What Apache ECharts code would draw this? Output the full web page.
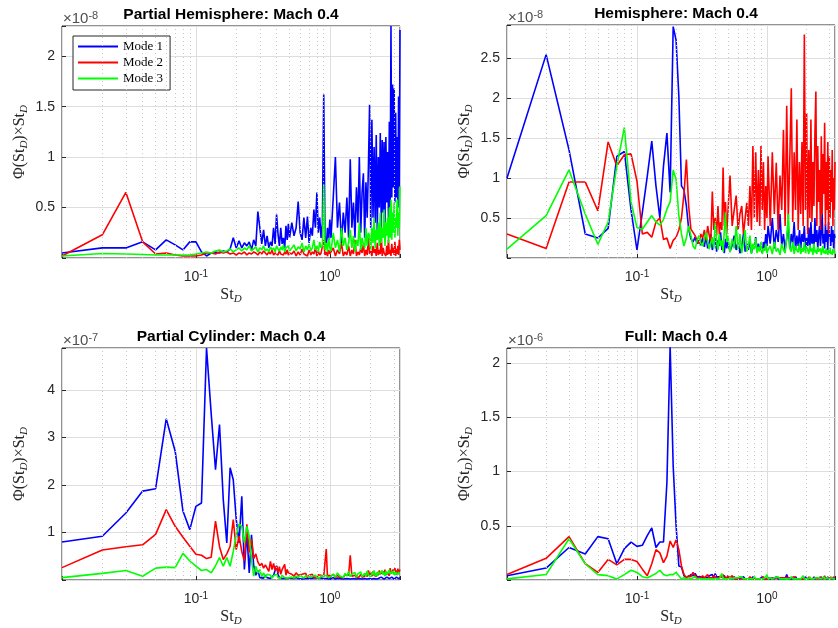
<!DOCTYPE html>
<html>
<head>
<meta charset="utf-8">
<title>Modal spectra, Mach 0.4</title>
<script src="https://cdn.jsdelivr.net/npm/echarts@6.0.0/dist/echarts.min.js"></script>
<style>
    html, body { margin: 0; padding: 0; background: #fff; }
    #myChart { width: 838px; height: 628px; }
</style>
</head>
<body>
<div id="myChart"></div>
<script>
// St_D samples (finer at low St, coarser where the spectra are dense)
var stLow = [0.01,0.02,0.03,0.04,0.05,0.06,0.07,0.08,0.09,0.10,
    0.11,0.12,0.13,0.14,0.15,0.16,0.17,0.18,0.19,0.20,
    0.21,0.22,0.23,0.24,0.25,0.26,0.27,0.28,0.29,0.30,
    0.31,0.32,0.33,0.34,0.35,0.36,0.37,0.38,0.39,0.40,
    0.41,0.42,0.43,0.44,0.45,0.46,0.47,0.48,0.49,0.50];
var stMid = [0.52,0.54,0.56,0.58,0.60,0.62,0.64,0.66,0.68,0.70,0.72,0.74,0.76,
    0.78,0.80,0.82,0.84,0.86,0.88,0.90,0.92,0.94,0.96,0.98,1.00];
var stHigh = [1.02,1.06,1.10,1.14,1.18,1.22,1.26,1.30,1.34,1.38,
    1.42,1.46,1.50,1.54,1.58,1.62,1.66,1.70,1.74,1.78,
    1.82,1.86,1.90,1.94,1.98,2.02,2.06,2.10,2.14,2.18,
    2.22,2.26,2.30,2.34,2.38,2.42,2.46,2.50,2.54,2.58,
    2.62,2.66,2.70,2.74,2.78,2.82,2.86,2.90,2.94,2.98,
    3.02,3.06,3.10,3.14,3.18,3.22,3.26,3.30,3.34];
var stValues = stLow.concat(stMid, stHigh);

// Partial Hemisphere, values x 1e-8
var partialHemiMode1 = [
    0.05,0.10,0.10,0.16,0.08,0.18,0.13,0.08,0.16,0.16,
    0.06,0.02,0.05,0.06,0.05,0.07,0.06,0.09,0.20,0.10,
    0.17,0.10,0.15,0.12,0.16,0.08,0.18,0.12,0.46,0.30,
    0.14,0.28,0.12,0.22,0.10,0.16,0.12,0.30,0.14,0.43,
    0.24,0.12,0.30,0.14,0.20,0.10,0.32,0.18,0.34,0.20,
    0.35,0.22,0.30,0.56,0.25,0.18,0.40,0.20,0.41,0.15,0.30,0.22,0.48,0.30,0.65,0.25,0.40,0.20,0.35,1.62,0.22,0.10,0.30,0.18,0.38,
    0.20,0.60,1.00,0.30,0.55,0.15,0.45,0.25,0.60,0.20,
    0.98,0.30,0.55,0.20,0.70,0.35,1.00,0.25,0.65,0.84,
    0.20,0.75,0.40,0.90,1.52,0.30,1.37,0.40,1.10,0.35,
    1.22,0.25,1.00,0.50,1.24,0.30,1.17,0.45,1.15,0.35,
    1.20,0.55,1.05,0.40,1.35,0.50,2.30,0.60,1.72,0.70,
    1.68,0.55,1.44,0.60,1.20,0.50,1.60,0.70,2.26];
var partialHemiMode2 = [
    0.02,0.23,0.65,0.16,0.04,0.05,0.03,0.02,0.02,0.02,
    0.03,0.05,0.05,0.04,0.06,0.05,0.06,0.04,0.05,0.03,
    0.05,0.04,0.06,0.03,0.05,0.04,0.06,0.05,0.03,0.06,
    0.04,0.07,0.05,0.03,0.06,0.04,0.08,0.03,0.05,0.06,
    0.03,0.07,0.04,0.05,0.03,0.06,0.04,0.08,0.03,0.05,
    0.04,0.07,0.02,0.06,0.03,0.09,0.04,0.05,0.02,0.08,0.03,0.06,0.04,0.10,0.02,0.07,0.03,0.05,0.04,0.18,0.03,0.06,0.02,0.08,0.04,
    0.03,0.10,0.02,0.08,0.04,0.15,0.02,0.06,0.03,0.12,
    0.02,0.08,0.04,0.18,0.02,0.06,0.03,0.10,0.05,0.14,
    0.02,0.08,0.03,0.20,0.04,0.07,0.02,0.12,0.05,0.09,
    0.02,0.15,0.03,0.08,0.04,0.22,0.02,0.10,0.05,0.06,
    0.02,0.12,0.03,0.18,0.04,0.08,0.02,0.14,0.05,0.10,
    0.03,0.16,0.02,0.09,0.04,0.12,0.03,0.18,0.08];
var partialHemiMode3 = [
    0.02,0.045,0.04,0.035,0.03,0.03,0.03,0.03,0.03,0.04,
    0.05,0.06,0.05,0.07,0.08,0.06,0.07,0.09,0.06,0.08,
    0.10,0.07,0.10,0.08,0.12,0.07,0.09,0.11,0.06,0.10,
    0.08,0.12,0.07,0.09,0.06,0.11,0.08,0.10,0.06,0.12,
    0.09,0.07,0.11,0.08,0.13,0.06,0.10,0.09,0.12,0.07,
    0.10,0.13,0.07,0.11,0.09,0.15,0.06,0.12,0.08,0.14,0.07,0.10,0.18,0.08,0.12,0.06,0.16,0.10,0.12,0.73,0.08,0.15,0.06,0.20,0.10,
    0.07,0.25,0.10,0.18,0.06,0.30,0.12,0.20,0.08,0.15,
    0.28,0.10,0.22,0.06,0.18,0.12,0.35,0.08,0.20,0.14,
    0.10,0.30,0.12,0.25,0.22,0.08,0.30,0.15,0.40,0.10,
    0.28,0.18,0.35,0.12,0.45,0.15,0.30,0.20,0.48,0.12,
    0.35,0.22,0.40,0.15,0.50,0.20,0.58,0.18,0.45,0.25,
    0.55,0.20,0.40,0.30,0.58,0.22,0.45,0.30,0.71];

// Hemisphere, values x 1e-8
var hemiMode1 = [
    1.00,2.54,1.35,0.30,0.25,0.37,1.27,1.33,0.60,0.10,
    0.57,1.02,1.46,0.90,0.50,1.15,1.56,0.82,2.89,2.72,
    2.02,0.90,0.85,0.65,0.36,0.24,0.20,0.26,0.18,0.22,
    0.16,0.25,0.14,0.28,0.12,0.20,0.30,0.10,0.18,0.26,
    0.08,0.22,0.15,0.32,0.10,0.18,0.06,0.24,0.12,0.20,
    0.08,0.16,0.28,0.10,0.20,0.06,0.14,0.30,0.08,0.18,0.10,0.22,0.06,0.15,0.12,0.26,0.08,0.18,0.10,0.14,0.06,0.20,0.12,0.30,0.15,
    0.40,0.18,0.50,0.12,0.35,0.20,0.55,0.15,0.30,0.10,
    0.25,0.40,0.12,0.30,0.18,0.45,0.10,0.28,0.15,0.35,
    0.12,0.30,0.20,0.40,0.10,0.25,0.15,0.38,0.12,0.45,
    0.18,0.30,0.10,0.50,0.20,0.35,0.12,0.28,0.40,0.15,
    0.32,0.55,0.18,0.30,0.12,0.42,0.20,0.35,0.10,0.45,
    0.25,0.30,0.15,0.40,0.20,0.35,0.12,0.30,0.25];
var hemiMode2 = [
    0.30,0.12,0.95,0.95,0.59,1.45,1.15,1.29,1.30,0.96,
    0.30,0.32,0.26,0.45,0.50,0.23,0.25,0.12,0.22,0.26,
    0.35,0.50,0.80,1.23,0.65,0.36,0.32,0.28,0.22,0.18,
    0.30,0.25,0.35,0.22,0.40,0.28,0.20,0.83,0.35,0.50,
    0.28,0.65,0.30,0.45,0.35,1.13,0.40,0.70,0.30,0.55,
    1.03,0.40,0.60,0.78,0.35,0.55,0.65,0.30,0.50,0.69,0.40,0.90,0.35,1.40,0.50,1.32,0.45,1.10,0.40,1.40,0.60,1.20,0.35,0.90,0.50,
    1.27,0.40,1.32,0.55,1.19,0.35,1.03,0.60,1.60,0.40,
    1.90,0.50,1.25,2.12,0.45,1.32,0.60,1.73,0.35,1.20,
    0.55,1.45,0.40,2.79,0.60,1.81,0.30,1.35,0.50,1.73,
    0.45,1.20,0.65,1.55,2.08,0.40,1.40,0.70,1.10,0.35,
    1.52,0.55,1.30,0.80,1.69,0.40,1.20,0.60,1.45,0.30,
    1.27,0.50,1.10,0.70,1.35,0.40,1.00,0.60,1.20];
var hemiMode3 = [
    0.11,0.53,1.10,0.55,0.17,0.45,1.15,1.63,0.70,0.38,
    0.36,0.45,0.53,0.45,0.41,0.48,0.61,0.70,1.10,0.98,
    0.53,0.30,0.15,0.25,0.40,0.28,0.15,0.11,0.22,0.28,
    0.18,0.15,0.24,0.32,0.20,0.11,0.18,0.26,0.12,0.44,
    0.20,0.10,0.30,0.15,0.22,0.08,0.35,0.57,0.20,0.28,
    0.07,0.24,0.12,0.40,0.10,0.30,0.06,0.20,0.35,0.08,0.15,0.28,0.05,0.18,0.10,0.25,0.06,0.14,0.08,0.20,0.05,0.12,0.09,0.18,0.06,
    0.10,0.15,0.05,0.20,0.08,0.12,0.04,0.18,0.10,0.06,
    0.25,0.55,0.12,0.08,0.20,0.05,0.15,0.10,0.07,0.18,
    0.05,0.12,0.08,0.20,0.06,0.14,0.10,0.05,0.16,0.08,
    0.12,0.04,0.18,0.07,0.10,0.05,0.14,0.08,0.06,0.12,
    0.04,0.10,0.15,0.06,0.09,0.05,0.12,0.07,0.04,0.10,
    0.06,0.13,0.05,0.08,0.04,0.11,0.06,0.09,0.05];

// Partial Cylinder, values x 1e-7
var partialCylMode1 = [
    0.80,0.92,1.41,1.87,1.92,3.39,2.71,1.45,1.06,1.55,
    1.62,4.88,3.50,2.32,3.27,1.69,0.78,2.36,2.11,1.27,
    0.78,1.76,0.22,0.99,0.15,0.95,0.30,0.10,0.20,0.05,
    0.08,0.04,0.10,0.05,0.06,0.03,0.05,0.10,0.20,0.30,
    0.12,0.05,0.08,0.03,0.05,0.04,0.06,0.03,0.05,0.04,
    0.04,0.03,0.05,0.03,0.04,0.02,0.05,0.03,0.04,0.03,0.02,0.04,0.03,0.05,0.02,0.04,0.03,0.04,0.02,0.03,0.05,0.03,0.04,0.02,0.03,
    0.03,0.05,0.02,0.04,0.03,0.06,0.02,0.04,0.03,0.05,
    0.02,0.04,0.03,0.05,0.02,0.06,0.03,0.04,0.02,0.05,
    0.03,0.04,0.02,0.06,0.03,0.05,0.02,0.04,0.03,0.06,
    0.02,0.05,0.03,0.04,0.02,0.06,0.03,0.05,0.02,0.04,
    0.03,0.06,0.02,0.05,0.03,0.04,0.02,0.06,0.03,0.05,
    0.02,0.04,0.03,0.06,0.02,0.05,0.03,0.04,0.05];
var partialCylMode2 = [
    0.26,0.63,0.70,0.74,0.96,1.48,1.13,0.90,0.71,0.54,
    0.52,0.45,0.48,1.24,0.70,0.43,0.55,0.71,1.27,0.64,
    0.92,0.60,0.40,1.17,0.58,0.86,0.45,0.55,0.38,0.30,
    0.35,0.25,0.32,0.29,0.18,0.39,0.22,0.35,0.20,0.29,
    0.15,0.28,0.12,0.22,0.18,0.33,0.10,0.22,0.15,0.12,
    0.12,0.08,0.15,0.10,0.06,0.12,0.08,0.14,0.05,0.10,0.07,0.12,0.06,0.09,0.05,0.11,0.07,0.10,0.06,0.08,0.12,0.65,0.05,0.10,0.07,
    0.08,0.12,0.05,0.10,0.06,0.09,0.05,0.11,0.07,0.10,
    0.52,0.08,0.06,0.10,0.05,0.09,0.07,0.12,0.06,0.10,
    0.08,0.14,0.07,0.20,0.10,0.15,0.08,0.18,0.10,0.13,
    0.08,0.16,0.10,0.20,0.12,0.15,0.08,0.18,0.12,0.22,
    0.10,0.16,0.12,0.20,0.09,0.25,0.14,0.18,0.10,0.22,
    0.12,0.25,0.15,0.20,0.10,0.24,0.14,0.18,0.22];
var partialCylMode3 = [
    0.05,0.14,0.20,0.08,0.25,0.27,0.26,0.56,0.40,0.29,
    0.20,0.22,0.15,0.30,0.47,0.29,0.47,0.29,0.60,0.95,
    1.18,1.13,0.78,1.13,0.92,0.43,0.08,0.29,0.15,0.22,
    0.07,0.15,0.05,0.12,0.08,0.10,0.04,0.09,0.06,0.12,
    0.05,0.08,0.04,0.10,0.06,0.05,0.08,0.04,0.07,0.05,
    0.06,0.04,0.08,0.05,0.10,0.06,0.04,0.09,0.05,0.07,0.04,0.08,0.06,0.10,0.05,0.07,0.04,0.09,0.06,0.08,0.05,0.10,0.07,0.05,0.09,
    0.08,0.12,0.06,0.15,0.09,0.11,0.05,0.14,0.08,0.18,
    0.07,0.12,0.10,0.16,0.06,0.13,0.09,0.17,0.07,0.11,
    0.14,0.08,0.19,0.10,0.13,0.07,0.16,0.11,0.20,0.09,
    0.14,0.08,0.18,0.12,0.15,0.09,0.20,0.11,0.16,0.08,
    0.19,0.12,0.15,0.10,0.21,0.13,0.17,0.09,0.18,0.12,
    0.20,0.10,0.16,0.14,0.19,0.11,0.17,0.13,0.15];

// Full, values x 1e-6
var fullMode1 = [
    0.04,0.11,0.30,0.24,0.40,0.38,0.15,0.29,0.35,0.31,
    0.32,0.41,0.48,0.30,0.35,0.35,0.90,2.16,1.05,0.50,
    0.13,0.12,0.04,0.02,0.03,0.05,0.04,0.06,0.03,0.04,
    0.03,0.04,0.02,0.03,0.02,0.04,0.03,0.05,0.02,0.06,
    0.03,0.02,0.03,0.02,0.03,0.02,0.04,0.02,0.03,0.02,
    0.02,0.01,0.03,0.01,0.02,0.01,0.02,0.03,0.01,0.02,0.01,0.02,0.01,0.03,0.01,0.02,0.01,0.02,0.01,0.02,0.03,0.01,0.02,0.01,0.02,
    0.02,0.01,0.02,0.01,0.03,0.01,0.02,0.01,0.02,0.01,
    0.05,0.01,0.02,0.01,0.02,0.01,0.03,0.01,0.02,0.01,
    0.02,0.01,0.02,0.01,0.03,0.01,0.02,0.01,0.02,0.01,
    0.02,0.01,0.03,0.01,0.02,0.01,0.02,0.01,0.02,0.01,
    0.03,0.01,0.02,0.01,0.02,0.01,0.02,0.01,0.03,0.01,
    0.02,0.01,0.02,0.01,0.02,0.01,0.03,0.01,0.02];
var fullMode2 = [
    0.05,0.20,0.40,0.15,0.07,0.19,0.14,0.19,0.19,0.17,
    0.10,0.04,0.15,0.28,0.25,0.16,0.22,0.36,0.30,0.37,
    0.28,0.13,0.05,0.02,0.04,0.03,0.07,0.04,0.02,0.03,
    0.02,0.04,0.02,0.03,0.05,0.02,0.03,0.02,0.04,0.03,
    0.02,0.03,0.02,0.04,0.02,0.05,0.02,0.03,0.02,0.04,
    0.02,0.04,0.01,0.02,0.01,0.03,0.01,0.02,0.01,0.02,0.01,0.03,0.01,0.02,0.01,0.02,0.01,0.02,0.01,0.02,0.01,0.03,0.01,0.02,0.01,
    0.01,0.02,0.01,0.02,0.01,0.02,0.01,0.02,0.01,0.02,
    0.01,0.02,0.01,0.02,0.01,0.03,0.01,0.02,0.01,0.02,
    0.01,0.02,0.01,0.02,0.01,0.02,0.01,0.03,0.01,0.02,
    0.01,0.02,0.01,0.02,0.01,0.02,0.01,0.02,0.01,0.03,
    0.01,0.02,0.01,0.02,0.04,0.01,0.02,0.01,0.02,0.01,
    0.02,0.01,0.03,0.01,0.02,0.01,0.02,0.01,0.02];
var fullMode3 = [
    0.01,0.05,0.38,0.15,0.05,0.04,0.01,0.05,0.09,0.07,
    0.03,0.02,0.04,0.06,0.09,0.05,0.04,0.05,0.05,0.07,
    0.04,0.01,0.02,0.01,0.02,0.01,0.02,0.03,0.01,0.02,
    0.01,0.02,0.01,0.02,0.01,0.02,0.01,0.02,0.01,0.02,
    0.01,0.02,0.01,0.02,0.06,0.01,0.02,0.01,0.02,0.01,
    0.02,0.01,0.02,0.01,0.02,0.01,0.03,0.01,0.02,0.01,0.02,0.01,0.02,0.01,0.03,0.01,0.02,0.01,0.02,0.01,0.02,0.01,0.02,0.03,0.05,
    0.01,0.02,0.01,0.02,0.01,0.03,0.01,0.02,0.01,0.02,
    0.01,0.02,0.01,0.03,0.01,0.02,0.01,0.02,0.01,0.02,
    0.01,0.02,0.04,0.01,0.02,0.01,0.02,0.01,0.03,0.01,
    0.02,0.01,0.02,0.01,0.02,0.03,0.01,0.02,0.01,0.02,
    0.01,0.02,0.01,0.03,0.01,0.02,0.01,0.02,0.01,0.02,
    0.01,0.02,0.01,0.02,0.01,0.03,0.01,0.02,0.01];

var modeNames = ['Mode 1', 'Mode 2', 'Mode 3'];
var modeColors = ['#0000ff', '#ff0000', '#00ff00'];

var panels = [
    {title: 'Partial Hemisphere: Mach 0.4', exp: '-8', yMax: 2.30, yStep: 0.5,
        modes: [partialHemiMode1, partialHemiMode2, partialHemiMode3], left: 62, top: 26, height: 232},
    {title: 'Hemisphere: Mach 0.4', exp: '-8', yMax: 2.91, yStep: 0.5,
        modes: [hemiMode1, hemiMode2, hemiMode3], left: 507, top: 25, height: 233},
    {title: 'Partial Cylinder: Mach 0.4', exp: '-7', yMax: 4.88, yStep: 1,
        modes: [partialCylMode1, partialCylMode2, partialCylMode3], left: 62, top: 348, height: 233},
    {title: 'Full: Mach 0.4', exp: '-6', yMax: 2.14, yStep: 0.5,
        modes: [fullMode1, fullMode2, fullMode3], left: 507, top: 348, height: 233}
];

var PLOT_W = 338;
var X_MIN = stValues[0], X_MAX = stValues[stValues.length - 1];
var AXIS_COLOR = '#262626';
var SANS = '"Liberation Sans", Arial, sans-serif';
var SERIF = '"Liberation Serif", "DejaVu Serif", serif';

panels.forEach(function (p) {
    p.modes.forEach(function (m, k) {
        if (m.length !== stValues.length) {
            throw new Error(p.title + ' mode ' + (k + 1) + ' has ' + m.length + ' values');
        }
    });
});

// dotted minor grid at 2..9 x 10^k
var minorLines = [];
[0.01, 0.1, 1].forEach(function (dec) {
    for (var m = 2; m <= 9; m++) {
        var v = +(m * dec).toPrecision(3);
        if (v < X_MAX) minorLines.push({xAxis: v});
    }
});

function logLabel(v) {
    var lg = Math.log10(v);
    var e = Math.round(lg);
    if (Math.abs(lg - e) > 1e-6 || e < -1 || e > 0) return '';
    return '{a|10}{b|' + e + '}';
}

function stepLabel(step) {
    return function (v) {
        var r = v / step;
        if (v <= 0 || Math.abs(r - Math.round(r)) > 1e-6) return '';
        return String(+v.toFixed(2));
    };
}

var subRich = {
    n: {fontFamily: SERIF, fontSize: 16, color: AXIS_COLOR, lineHeight: 20},
    s: {fontFamily: SERIF, fontSize: 11, fontStyle: 'italic', color: AXIS_COLOR, verticalAlign: 'bottom'}
};

var grids = [], xAxes = [], yAxes = [], series = [], graphics = [];

panels.forEach(function (p, i) {
    grids.push({
        left: p.left, top: p.top, width: PLOT_W, height: p.height,
        show: true, borderColor: AXIS_COLOR, borderWidth: 1, backgroundColor: '#fff'
    });
    xAxes.push({
        type: 'log', logBase: 10, gridIndex: i, min: X_MIN, max: X_MAX,
        axisLine: {show: false},
        axisTick: {show: true, inside: true, length: 4, lineStyle: {color: AXIS_COLOR}},
        splitLine: {show: true, lineStyle: {color: '#dedede', width: 1}},
        axisLabel: {
            margin: 11, formatter: logLabel,
            rich: {
                a: {fontFamily: SANS, fontSize: 14, color: AXIS_COLOR, lineHeight: 17},
                b: {fontFamily: SANS, fontSize: 10, color: AXIS_COLOR, verticalAlign: 'top'}
            }
        },
        name: '{n|St}{s|D}', nameLocation: 'middle', nameGap: 27,
        nameTextStyle: {rich: subRich}
    });
    yAxes.push({
        type: 'value', gridIndex: i, min: 0, max: p.yMax, interval: p.yStep,
        axisLine: {show: false},
        axisTick: {show: true, inside: true, length: 4, lineStyle: {color: AXIS_COLOR}},
        splitLine: {show: true, lineStyle: {color: '#dedede', width: 1}},
        axisLabel: {
            margin: 7, formatter: stepLabel(p.yStep),
            fontFamily: SANS, fontSize: 14, color: AXIS_COLOR
        },
        name: '{n|Φ(St}{s|D}{n|)×St}{s|D}', nameLocation: 'middle', nameGap: 32,
        nameTextStyle: {rich: subRich}
    });

    // carrier for the dotted minor grid
    series.push({
        type: 'line', xAxisIndex: i, yAxisIndex: i, data: [], z: 1, silent: true,
        markLine: {
            silent: true, symbol: ['none', 'none'], animation: false,
            label: {show: false},
            lineStyle: {type: [1, 3], color: '#c8c8c8', width: 1},
            data: minorLines
        }
    });

    p.modes.forEach(function (vals, m) {
        series.push({
            name: modeNames[m], type: 'line', xAxisIndex: i, yAxisIndex: i,
            data: stValues.map(function (s, k) { return [s, vals[k]]; }),
            showSymbol: false, symbol: 'none', z: 2 + m,
            lineStyle: {width: 1.6, color: modeColors[m]},
            itemStyle: {color: modeColors[m]}
        });
    });

    graphics.push({
        type: 'text', x: p.left + PLOT_W / 2, y: p.top - 11,
        style: {
            text: p.title, font: 'bold 15.5px ' + SANS, fill: '#000',
            align: 'center', verticalAlign: 'middle',
            textAlign: 'center', textVerticalAlign: 'middle'
        }
    });
    graphics.push({
        type: 'text', x: p.left + 1, y: p.top - 7,
        style: {
            text: '{a|×10}{b|' + p.exp + '}',
            align: 'left', verticalAlign: 'middle',
            textAlign: 'left', textVerticalAlign: 'middle',
            rich: {
                a: {fontFamily: SANS, fontSize: 15, fill: '#505050', lineHeight: 17},
                b: {fontFamily: SANS, fontSize: 11, fill: '#505050', verticalAlign: 'top'}
            }
        }
    });
});

var myChart = echarts.init(document.getElementById('myChart'), null, {renderer: 'canvas'});

myChart.setOption({
    animation: false,
    backgroundColor: '#fff',
    legend: {
        data: modeNames, orient: 'vertical', left: 73, top: 36,
        padding: [4, 7, 5, 5], itemGap: 3, itemWidth: 40, itemHeight: 2, icon: 'rect',
        backgroundColor: '#fff', borderColor: AXIS_COLOR, borderWidth: 1,
        selectedMode: false,
        textStyle: {fontFamily: SERIF, fontSize: 13, color: '#000'}
    },
    grid: grids,
    xAxis: xAxes,
    yAxis: yAxes,
    series: series,
    graphic: graphics
});
</script>
</body>
</html>
